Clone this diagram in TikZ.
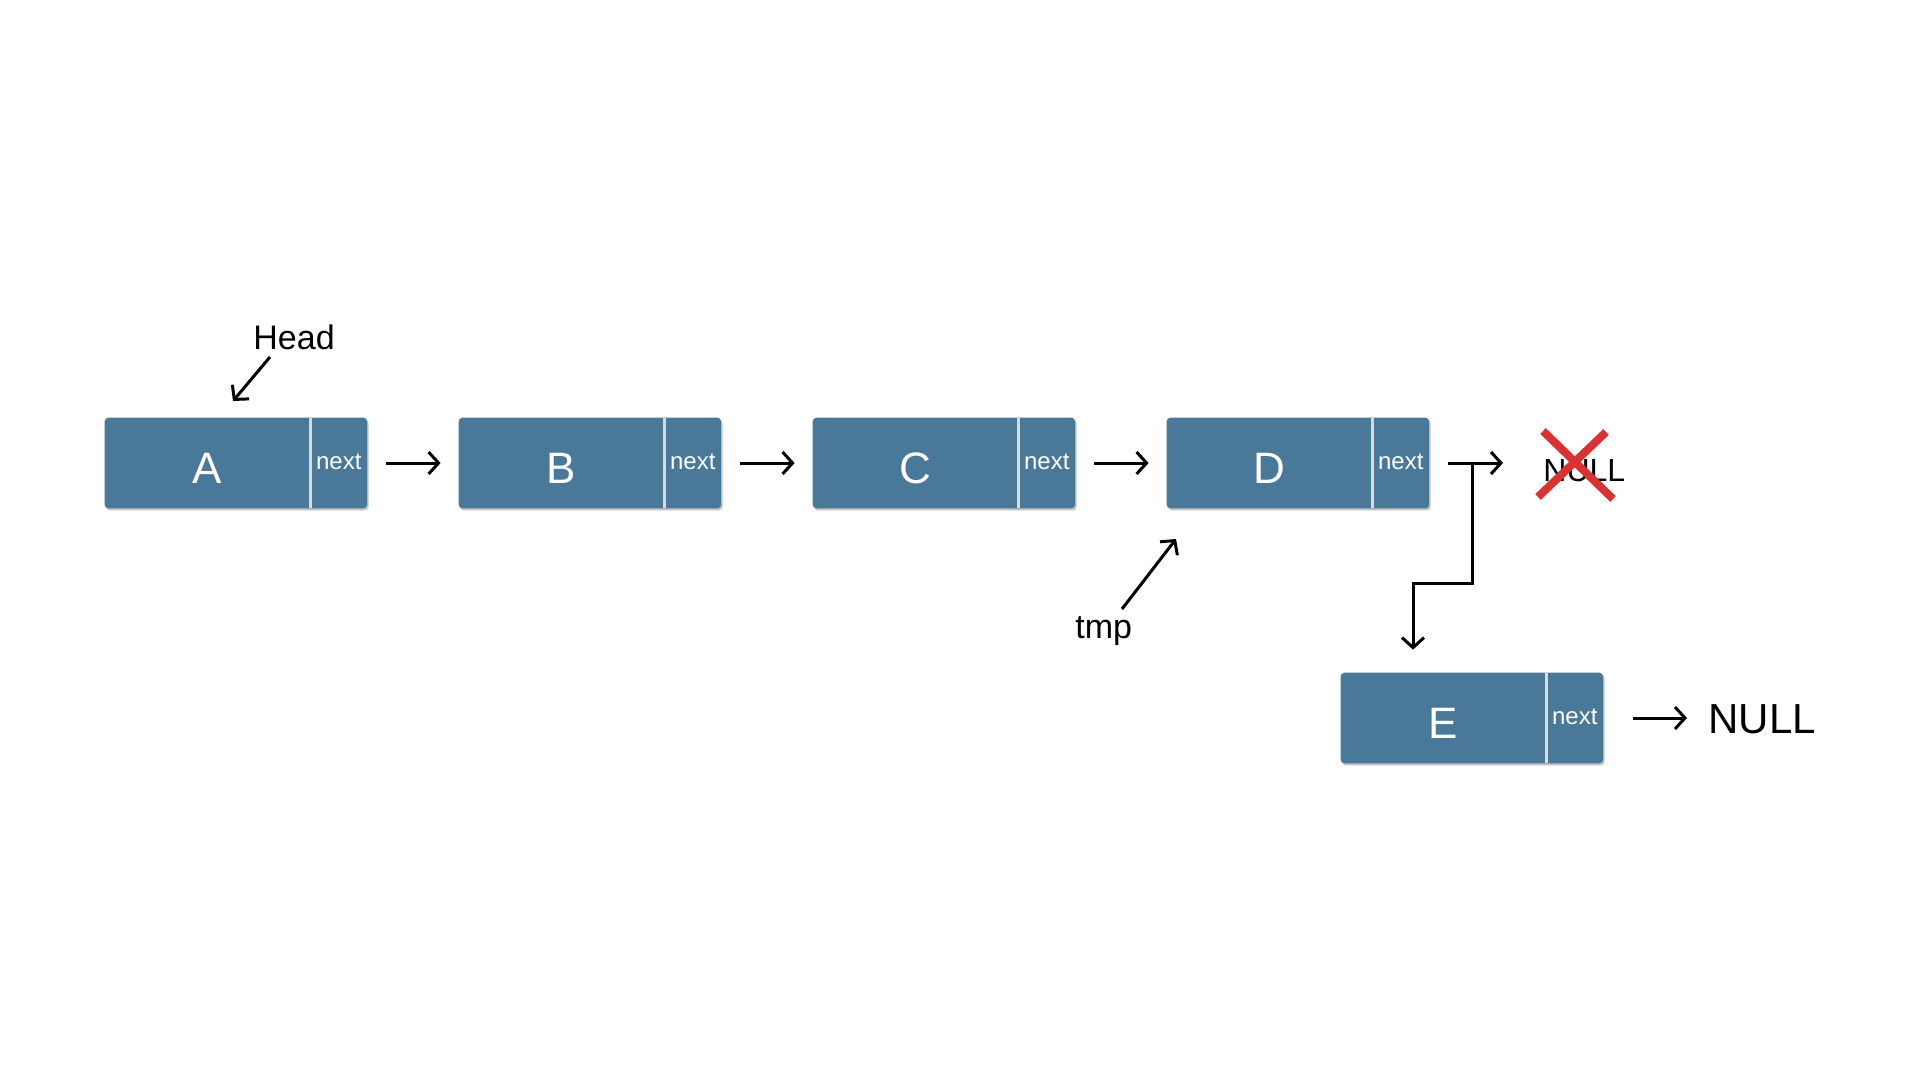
\documentclass[tikz,border=0pt]{standalone}
\usepackage{fontspec}
\setmainfont{Liberation Sans}
\usetikzlibrary{arrows.meta,shadows,backgrounds,calc}
\definecolor{cellblue}{HTML}{4A7898}
\definecolor{crossred}{HTML}{D93232}
\definecolor{divgray}{HTML}{DADADA}
\tikzset{
  cellmain/.style={rectangle, minimum width=102.5pt, minimum height=45pt, inner sep=0pt,
    text=white, font=\fontsize{22pt}{26pt}\selectfont, text height=20pt, text depth=0pt},
  cellnext/.style={rectangle, minimum width=28pt, minimum height=45pt, inner sep=0pt,
    text=white, font=\fontsize{12pt}{14pt}\selectfont, text height=6.2pt, text depth=0pt, anchor=west},
  link/.style={line width=1.5pt, -{Straight Barb[length=5pt,width=11pt]}},
  lbl/.style={inner sep=0pt, anchor=base west, font=\fontsize{17pt}{20pt}\selectfont},
  smallnull/.style={inner sep=0pt, anchor=base west, font=\fontsize{16pt}{20pt}\selectfont},
  bignull/.style={inner sep=0pt, anchor=base west, font=\fontsize{21pt}{25pt}\selectfont},
}
\begin{document}
\begin{tikzpicture}[x=0.5pt,y=-0.5pt]
\useasboundingbox (0,0) rectangle (1920,1080);
% cells
\node[cellmain] (A) at (207.5,463) {A};
\node[cellnext] (A-n) at (A.east) {next};
\node[cellmain] (B) at (561.5,463) {B};
\node[cellnext] (B-n) at (B.east) {next};
\node[cellmain] (C) at (915.5,463) {C};
\node[cellnext] (C-n) at (C.east) {next};
\node[cellmain] (D) at (1269.5,463) {D};
\node[cellnext] (D-n) at (D.east) {next};
\node[cellmain] (E) at (1443.5,718) {E};
\node[cellnext] (E-n) at (E.east) {next};
\begin{scope}[on background layer]
\foreach \n in {A,B,C,D,E}{
  \fill[cellblue, rounded corners=2pt,
    drop shadow={shadow xshift=0.7pt, shadow yshift=-1pt, fill=black!40, opacity=0.6}]
    (\n.north west) rectangle (\n-n.south east);
  \draw[divgray, line width=1.1pt] (\n.north east) -- (\n.south east);
}
\end{scope}
% labels
\node[lbl] (head) at (253,350) {Head};
\node[lbl] (tmp) at (1075,638) {tmp};
\node[smallnull] (null1) at (1543,481) {NULL};
\node[bignull] (null2) at (1708,733) {NULL};
% links
\draw[link, shorten <=9.25pt, shorten >=9pt] (A-n.east) -- (B.west);
\draw[link, shorten <=9.25pt, shorten >=9pt] (B-n.east) -- (C.west);
\draw[link, shorten <=9.25pt, shorten >=9pt] (C-n.east) -- (D.west);
\draw[link, shorten <=9.5pt, shorten >=20pt] (D-n.east) -- (D-n.east -| null1.west);
\coordinate (jn) at (1472,463);
\coordinate (jk) at (1413,583);
\draw[link, shorten >=11.5pt] (jn) |- (jk) -- (jk |- E.north);
\draw[link, shorten <=15pt, shorten >=10.5pt] (E-n.east) -- (E-n.east -| null2.west);
% pointers
\coordinate (headtail) at (270,357);
\coordinate (headtip) at (233,401);
\draw[link] (headtail) -- (headtip);
\coordinate (tmptail) at (1122,609);
\coordinate (tmptip) at (1176,539);
\draw[link] (tmptail) -- (tmptip);
% cross
\draw[crossred, line width=4pt] (1543,431) -- (1613,499) (1606,432) -- (1538,497);
\end{tikzpicture}
\end{document}
